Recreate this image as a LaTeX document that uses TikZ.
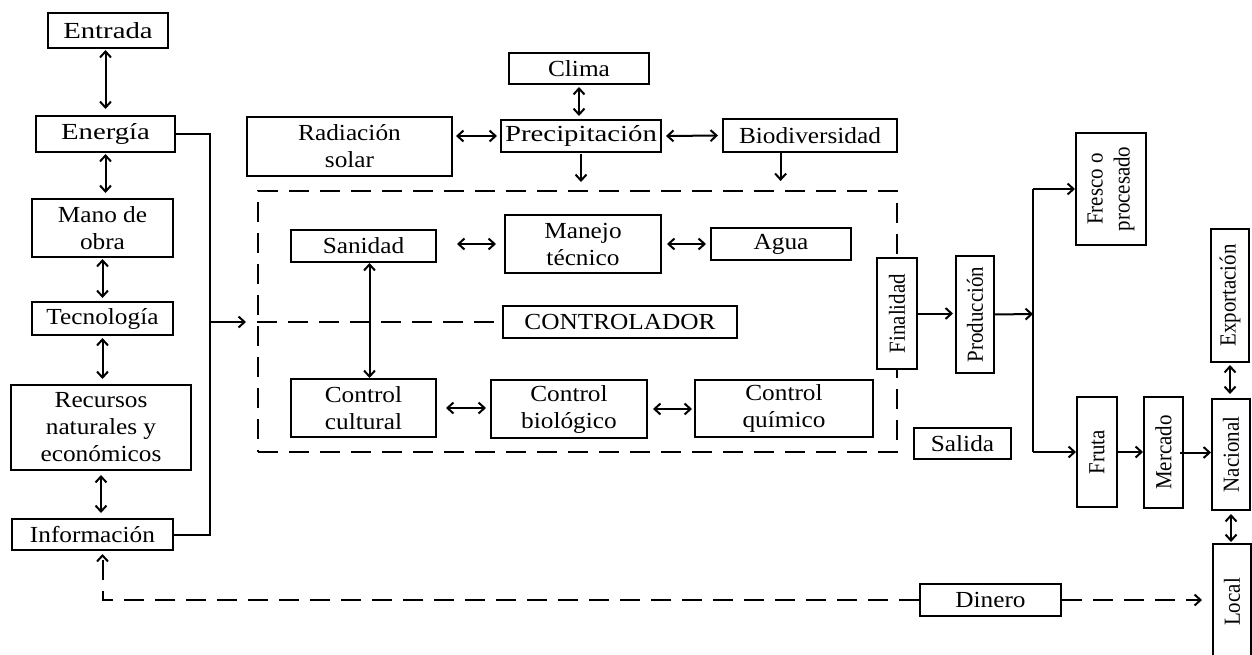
\documentclass[tikz,border=0pt]{standalone}
\usepackage{fontspec}
\setmainfont{Liberation Serif}[FakeStretch=1.1]
\newfontfamily\rotfont{Liberation Serif}[FakeStretch=0.91]
\newfontfamily\widefont{Liberation Serif}[FakeStretch=1.25]
\usetikzlibrary{arrows.meta,calc}
\begin{document}
\begin{tikzpicture}[x=1pt,y=-1pt,
  >={Straight Barb[length=6pt,width=11pt]},
  box/.style={draw,line width=2pt,fill=white,inner sep=2pt,align=center,
    font=\fontsize{23}{27}\selectfont},
  widebox/.style={box,font=\widefont\fontsize{23}{27}\selectfont},
  vbox/.style={box,rotate=90,font=\rotfont\fontsize{23}{27}\selectfont},
  conn/.style={line width=2pt},
  dline/.style={line width=2pt,dash pattern=on 20pt off 11pt}]
\useasboundingbox (0,0) rectangle (1252,654);
\fill[white] (0,0) rectangle (1252,654);

% dashed controller frame
\node[draw,line width=2pt,dash pattern=on 20pt off 11pt,minimum width=639pt,minimum height=261pt,inner sep=0pt] (ctrl) at (577.5,321.5) {};

% left column
\node[widebox,minimum width=120pt,minimum height=35pt] (entrada) at (108,30.5) {Entrada};
\node[widebox,minimum width=139pt,minimum height=36pt] (energia) at (105.5,134) {Energía};
\node[box,minimum width=141pt,minimum height=58pt] (mano) at (102.5,228) {Mano de\\obra};
\node[box,minimum width=141pt,minimum height=33pt] (tecno) at (102.5,318.5) {Tecnología};
\node[box,minimum width=180pt,minimum height=85pt] (recursos) at (101,427.5) {Recursos\\naturales y\\económicos};
\node[box,minimum width=161pt,minimum height=31pt] (info) at (92.5,534.5) {Información};

% top
\node[box,minimum width=140pt,minimum height=31pt] (clima) at (579,68.5) {Clima};
\node[box,minimum width=205pt,minimum height=59pt] (radiacion) at (349.5,146.5) {Radiación\\solar};
\node[widebox,minimum width=160pt,minimum height=32pt] (precip) at (581,136) {Precipitación};
\node[box,minimum width=174pt,minimum height=33pt] (biodiv) at (810,135.5) {Biodiversidad};

% inside frame
\node[box,minimum width=145pt,minimum height=32pt] (sanidad) at (363.5,246) {Sanidad};
\node[box,minimum width=156pt,minimum height=58pt] (manejo) at (583,244) {Manejo\\técnico};
\node[box,minimum width=140pt,minimum height=32pt] (agua) at (781,244) {Agua};
\node[box,minimum width=234pt,minimum height=32pt] (controlador) at (620,322) {CONTROLADOR};
\node[box,minimum width=145pt,minimum height=58pt] (cultural) at (363.5,408) {Control\\cultural};
\node[box,minimum width=156pt,minimum height=58pt] (biologico) at (569,409) {Control\\biológico};
\node[box,minimum width=178pt,minimum height=57pt] (quimico) at (784,408.5) {Control\\químico};

% right side
\node[vbox,minimum width=111pt,minimum height=40pt] (finalidad) at (897,313.5) {Finalidad};
\node[vbox,minimum width=117pt,minimum height=38pt] (produccion) at (975,314.5) {Producción};
\node[box,minimum width=97pt,minimum height=31pt] (salida) at (962.5,443.5) {Salida};
\node[vbox,minimum width=112pt,minimum height=70pt] (fresco) at (1111,189) {Fresco o\\procesado};
\node[vbox,minimum width=133pt,minimum height=38pt] (exportacion) at (1230,295.5) {Exportación};
\node[vbox,minimum width=110pt,minimum height=40pt] (fruta) at (1097,452) {Fruta};
\node[vbox,minimum width=111pt,minimum height=39pt] (mercado) at (1163.5,452.5) {Mercado};
\node[vbox,minimum width=111pt,minimum height=38pt] (nacional) at (1231,454.5) {Nacional};
\node[vbox,minimum width=116pt,minimum height=38pt] (local) at (1232,602) {Local};
\node[box,minimum width=141pt,minimum height=32pt] (dinero) at (990.5,600) {Dinero};

% left column connectors
\draw[conn,<->,shorten <=1pt,shorten >=6pt] (entrada.south -| energia.north) -- (energia.north);
\draw[conn,<->,shorten <=1pt,shorten >=5pt] (energia.south) -- (energia.south |- mano.north);
\draw[conn,<->,shorten <=1pt,shorten >=3pt] (mano.south) -- (tecno.north);
\draw[conn,<->,shorten <=2pt,shorten >=5pt] (tecno.south) -- (tecno.south |- recursos.north);
\draw[conn,<->,shorten <=4pt,shorten >=5pt] (recursos.south) -- (recursos.south |- info.north);
\coordinate (bus) at (210,322);
\draw[conn] (energia.east) -| (bus) |- (info.east);
\draw[conn,->,shorten >=11pt] (bus) -- (bus -| ctrl.west);
\draw[dline] (ctrl.west |- controlador.west) -- (controlador.west);

% top connectors
\draw[conn,<->,shorten <=2pt,shorten >=3pt] (clima.south) -- (clima.south |- precip.north);
\draw[conn,<->,shorten <=3pt,shorten >=3pt] (radiacion.east |- precip.west) -- (precip.west);
\draw[conn,<->,shorten <=4pt,shorten >=4pt] (precip.east) -- (biodiv.west);
\draw[conn,->,shorten <=1pt,shorten >=8pt] (precip.south) -- (precip.south |- ctrl.north);
\coordinate (bdown) at ($(biodiv.south west)!0.333!(biodiv.south east)$);
\draw[conn,->,shorten >=9pt] (bdown) -- (bdown |- ctrl.north);

% inside frame connectors
\draw[conn,<->,shorten <=20pt,shorten >=8pt] (sanidad.east |- manejo.west) -- (manejo.west);
\draw[conn,<->,shorten <=5pt,shorten >=4pt] (manejo.east) -- (agua.west);
\draw[conn,<->] ($(sanidad.south)+(6,0)$) -- ($(cultural.north)+(6,0)$);
\draw[conn,<->,shorten <=9pt,shorten >=4pt] (cultural.east) -- (cultural.east -| biologico.west);
\draw[conn,<->,shorten <=5pt,shorten >=2pt] (biologico.east) -- (biologico.east -| quimico.west);

% right connectors (rotated nodes: north = image left, south = image right, east = image top, west = image bottom)
\draw[conn,->,shorten >=2pt] (finalidad.south) -- (finalidad.south -| produccion.north);
\coordinate (split) at (1033,314);
\draw[conn,->] ($(produccion.south)+(-2,0)$) -- (split);
\draw[conn] (split |- fresco.north) -- (split |- fruta.north);
\draw[conn,->] (split |- fresco.north) -- (fresco.north);
\draw[conn,->] (split |- fruta.north) -- (fruta.north);
\draw[conn,->] (fruta.south) -- (fruta.south -| mercado.north);
\draw[conn,->] ($(mercado.south)+(-4,0)$) -- (mercado.south -| nacional.north);
\draw[conn,<->,shorten <=2pt,shorten >=4pt] (exportacion.west) -- (exportacion.west |- nacional.east);
\draw[conn,<->,shorten <=3pt,shorten >=1pt] (nacional.west) -- (nacional.west |- local.east);

% money flow
\draw[dline,->,shorten >=3pt] (dinero.west) -| ($(info.south)+(10,0)$);
\draw[dline,->,shorten >=10pt] (dinero.east) -- (dinero.east -| local.north);
\end{tikzpicture}
\end{document}
